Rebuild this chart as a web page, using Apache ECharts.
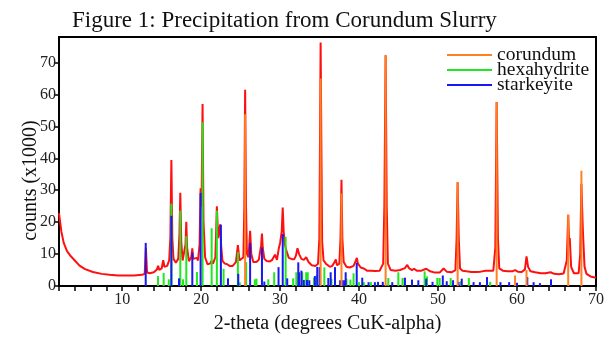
<!DOCTYPE html>
<html>
<head>
<meta charset="utf-8">
<script src="https://cdn.jsdelivr.net/npm/echarts@6/dist/echarts.min.js"></script>
<style>
  html, body { margin: 0; padding: 0; background: #fff; }
  #chart { width: 608px; height: 339px; }
</style>
</head>
<body>
<div id="chart"></div>
<script>
// measured pattern [2-theta, counts/1000]
const pattern = [
  [2.0,22.8],[2.3,17],[2.6,13.5],[3.0,11],[3.5,9.3],[4.0,8],[4.6,6.4],[5.3,5.3],[6.3,4.4],[7.4,3.8],
  [8.4,3.5],[9.5,3.3],[10.5,3.3],[11.5,3.3],[12.5,3.5],[12.85,3.8],[13.0,12],[13.15,4.2],[13.5,4],[14.0,4.3],
  [14.4,5.2],[14.55,6.3],[14.7,5],[15.0,5.5],[15.2,8.1],[15.35,6],[15.7,6.3],[15.95,8],[16.1,15],[16.23,39.5],
  [16.35,15],[16.5,8.5],[16.8,7.3],[17.1,8.5],[17.25,16],[17.36,29.2],[17.48,14],[17.65,8],[17.9,8.5],[18.02,13],
  [18.12,20.1],[18.22,12],[18.45,7.8],[18.75,9],[18.88,11.8],[19.0,8.5],[19.2,8],[19.45,8.8],[19.6,8],[19.8,13],
  [19.93,30.6],[20.05,25],[20.18,57],[20.3,20],[20.5,9],[20.8,6.8],[21.1,7],[21.3,7.8],[21.5,7],[21.8,9],
  [21.9,17],[21.99,25],[22.15,15],[22.4,19.3],[22.55,12],[22.7,7.9],[23.0,7],[23.3,6.8],[23.6,6.3],[24.0,6.3],
  [24.4,7.5],[24.65,12.8],[24.85,8],[25.1,7.5],[25.35,9],[25.47,25],[25.57,61.5],[25.68,25],[25.8,10],[26.0,9],
  [26.2,17.3],[26.35,10],[26.6,7.5],[27.0,7.5],[27.3,8.2],[27.6,12.8],[27.7,16.4],[27.8,12],[28.0,8.5],[28.3,7.8],
  [28.7,7.7],[29.0,8.2],[29.35,9.8],[29.6,8.2],[29.85,12],[30.0,13.5],[30.2,17],[30.33,24.6],[30.45,17],[30.6,13],
  [30.8,11],[31.1,8.8],[31.5,8.4],[31.8,8.4],[32.0,9.5],[32.2,11.8],[32.4,10],[32.7,8.5],[33.0,8.2],[33.3,9],
  [33.6,7.5],[34.0,6.5],[34.5,6.3],[34.8,7],[34.97,15],[35.05,45],[35.13,76.3],[35.22,45],[35.32,14],[35.5,8],
  [35.8,7],[36.0,6.8],[36.3,6],[36.6,6.3],[36.9,7.5],[37.05,8.3],[37.2,6.5],[37.5,7],[37.65,15],[37.77,33.3],
  [37.88,15],[38.05,7.5],[38.4,6],[38.8,5.8],[39.3,6.3],[39.6,8],[39.72,8.8],[39.85,7],[40.2,5.8],[40.6,5.5],
  [41.0,4.8],[41.5,4.8],[42.0,4.7],[42.6,4.8],[43.05,7],[43.2,25],[43.36,72.3],[43.5,25],[43.65,7],[44.0,5],
  [44.6,4.8],[45.2,5],[45.8,5.6],[46.1,6.6],[46.35,5.5],[46.7,5],[46.96,5.4],[47.3,4.8],[47.9,4.8],[48.5,5.4],
  [49.0,4.6],[49.6,4.2],[50.2,4.2],[50.7,5.5],[51.1,4.5],[51.7,4.3],[52.2,5],[52.35,15],[52.48,32.5],[52.62,15],
  [52.78,5.5],[53.1,4.8],[53.6,4.6],[54.2,4.4],[54.8,4.4],[55.4,4.5],[56.0,4.8],[56.2,5.2],[56.5,4.8],[57.0,4.8],
  [57.25,12],[57.42,57.6],[57.58,15],[57.75,5.5],[58.2,4.8],[58.8,4.6],[59.4,4.6],[59.75,5],[60.1,4.5],[60.6,4.4],
  [61.0,5.2],[61.2,9.3],[61.4,6],[61.7,4.6],[62.3,4.3],[63.0,4],[63.6,4],[64.25,4.3],[64.7,3.8],[65.3,3.7],
  [65.9,3.9],[66.3,8],[66.48,22.3],[66.6,13],[66.68,15],[66.85,6],[67.2,4],[67.8,4],[68.0,10],[68.15,32],
  [68.3,20],[68.38,15],[68.55,6],[68.8,3.8],[69.3,3],[70.0,2.6]
];

// reference sticks [2-theta, height]
const corundum = [
  [25.57,53.8],[35.13,65],[37.77,29],[43.36,72.3],[52.48,32.5],[57.42,57.6],[59.75,3.3],[61.2,5],[66.48,22.3],[68.15,36.1]
];

const hexahydrite = [
  [14.54,3.1],[15.25,4.1],[15.9,2.1],[16.23,25.8],[17.36,23.6],[17.7,2.1],[18.12,15.6],[19.47,4.4],[20.18,51.3],
  [21.33,18.1],[21.99,23.6],[22.84,5.4],[24.65,10.6],[24.9,1.1],[25.7,7.5],[26.8,2.1],[27.0,2.3],[28.5,2.1],
  [29.25,4.3],[30.7,15.4],[31.65,2.4],[32.05,4.3],[32.8,4.3],[33.3,4.3],[33.5,4.3],[34.3,2.6],[34.6,3.3],
  [35.6,5.8],[36.5,2.3],[38.4,2.3],[38.9,2],[39.3,4],[40.0,1.2],[40.6,1.2],[41.5,1.2],[43.7,2.5],[44.97,4.3],
  [45.5,2.5],[45.8,2.5],[48.3,4.6],[48.6,3],[49.9,2.5],[50.2,2.5],[51.6,2.5],[52.9,1.5],[53.9,2.5],[56.6,1.3]
];

const starkeyite = [
  [12.98,13.5],[16.23,22],[17.2,2.4],[18.88,10.5],[19.93,29.1],[22.5,19.2],[23.4,2.4],[24.7,3.8],[26.2,13.5],
  [27.7,12],[28.0,1.4],[29.8,5.9],[30.33,16.3],[30.9,2.4],[32.3,7.4],[32.4,4.3],[32.7,4.8],[33.0,1.9],[33.4,1.9],
  [33.7,1.8],[34.4,3.1],[34.7,6],[35.0,5.9],[36.1,2.5],[36.4,4.3],[36.95,5.9],[37.6,1.8],[37.85,1.8],[38.1,1.8],
  [38.3,4.3],[39.7,7.3],[40.4,2.6],[41.2,1.2],[42.0,1.2],[42.4,1.3],[43.0,1.3],[44.2,1.2],[45.8,2.6],[46.7,2],
  [47.5,1.8],[48.5,2.3],[49.3,1.3],[50.6,3.3],[51.1,1.5],[51.9,1.8],[52.6,1.3],[53.0,2.3],[54.5,1.2],[55.3,1.2],
  [56.2,2.8],[57.9,1.2],[59.0,1.2],[60.0,1],[61.3,2.8],[62.1,1.2],[62.9,0.9],[64.3,2.1]
];

const yTicks = [0, 10, 20, 30, 40, 50, 60, 70];
const xLabels = [10, 20, 30, 40, 50, 60, 70];

const serif = "'Liberation Serif', 'DejaVu Serif', serif";

// vertical reference line from 0 up to value
const stick = (color) => (params, api) => {
  const p0 = api.coord([api.value(0), 0]);
  const p1 = api.coord([api.value(0), api.value(1)]);
  return {
    type: "line",
    shape: { x1: p0[0], y1: p0[1], x2: p1[0], y2: p1[1] },
    style: { stroke: color, lineWidth: 2 },
  };
};

const colors = {
  pattern: "#ff1010",
  corundum: "#ff8020",
  hexahydrite: "#20e820",
  starkeyite: "#1818f0",
};

const chart = echarts.init(document.getElementById("chart"));
chart.setOption({
  animation: false,
  backgroundColor: "#fff",
  title: {
    text: "Figure 1: Precipitation from Corundum Slurry",
    left: 72,
    top: 9,
    padding: 0,
    textStyle: { fontFamily: serif, fontSize: 23, fontWeight: "normal", color: "#111" },
  },
  legend: {
    orient: "vertical",
    left: 447,
    top: 45,
    itemWidth: 45,
    itemHeight: 2,
    itemGap: -5,
    icon: "rect",
    padding: 0,
    textStyle: { fontFamily: serif, fontSize: 19.5, color: "#111" },
    data: ["corundum", "hexahydrite", "starkeyite"],
  },
  grid: {
    left: 59,
    right: 12,
    top: 37,
    bottom: 43,
    show: true,
    borderColor: "#000",
    borderWidth: 2,
  },
  xAxis: {
    type: "value",
    min: 2,
    max: 70,
    interval: 2,
    name: "2-theta (degrees CuK-alpha)",
    nameLocation: "middle",
    nameGap: 28,
    nameMoveOverlap: false,
    nameTextStyle: { fontFamily: serif, fontSize: 20, color: "#111" },
    axisLine: { onZero: false, lineStyle: { color: "#000", width: 2 } },
    axisTick: { show: true, length: 5, lineStyle: { color: "#000", width: 1.5 } },
    axisLabel: {
      fontFamily: serif,
      fontSize: 16,
      color: "#222",
      margin: 6,
      formatter: (v) => (xLabels.includes(v) ? String(v) : ""),
    },
    splitLine: { show: false },
  },
  yAxis: {
    type: "value",
    min: 0,
    max: 78,
    name: "counts (x1000)",
    nameLocation: "middle",
    nameGap: 18,
    nameRotate: 90,
    nameMoveOverlap: false,
    nameTextStyle: { fontFamily: serif, fontSize: 20, color: "#111", padding: [0, 38, 0, 0] },
    axisLine: { onZero: false, lineStyle: { color: "#000", width: 2 } },
    axisTick: { show: true, length: 5, customValues: yTicks, lineStyle: { color: "#000", width: 1.5 } },
    axisLabel: { fontFamily: serif, fontSize: 16, color: "#222", margin: 3, customValues: yTicks },
    splitLine: { show: false },
  },
  series: [
    {
      name: "pattern",
      type: "line",
      data: pattern,
      showSymbol: false,
      lineStyle: { color: colors.pattern, width: 2 },
      itemStyle: { color: colors.pattern },
      z: 2,
    },
    {
      name: "hexahydrite",
      type: "custom",
      data: hexahydrite,
      encode: { x: 0, y: 1 },
      itemStyle: { color: colors.hexahydrite },
      renderItem: stick(colors.hexahydrite),
      z: 3,
    },
    {
      name: "starkeyite",
      type: "custom",
      data: starkeyite,
      encode: { x: 0, y: 1 },
      itemStyle: { color: colors.starkeyite },
      renderItem: stick(colors.starkeyite),
      z: 4,
    },
    {
      name: "corundum",
      type: "custom",
      data: corundum,
      encode: { x: 0, y: 1 },
      itemStyle: { color: colors.corundum },
      renderItem: stick(colors.corundum),
      z: 5,
    },
  ],
});
</script>
</body>
</html>
